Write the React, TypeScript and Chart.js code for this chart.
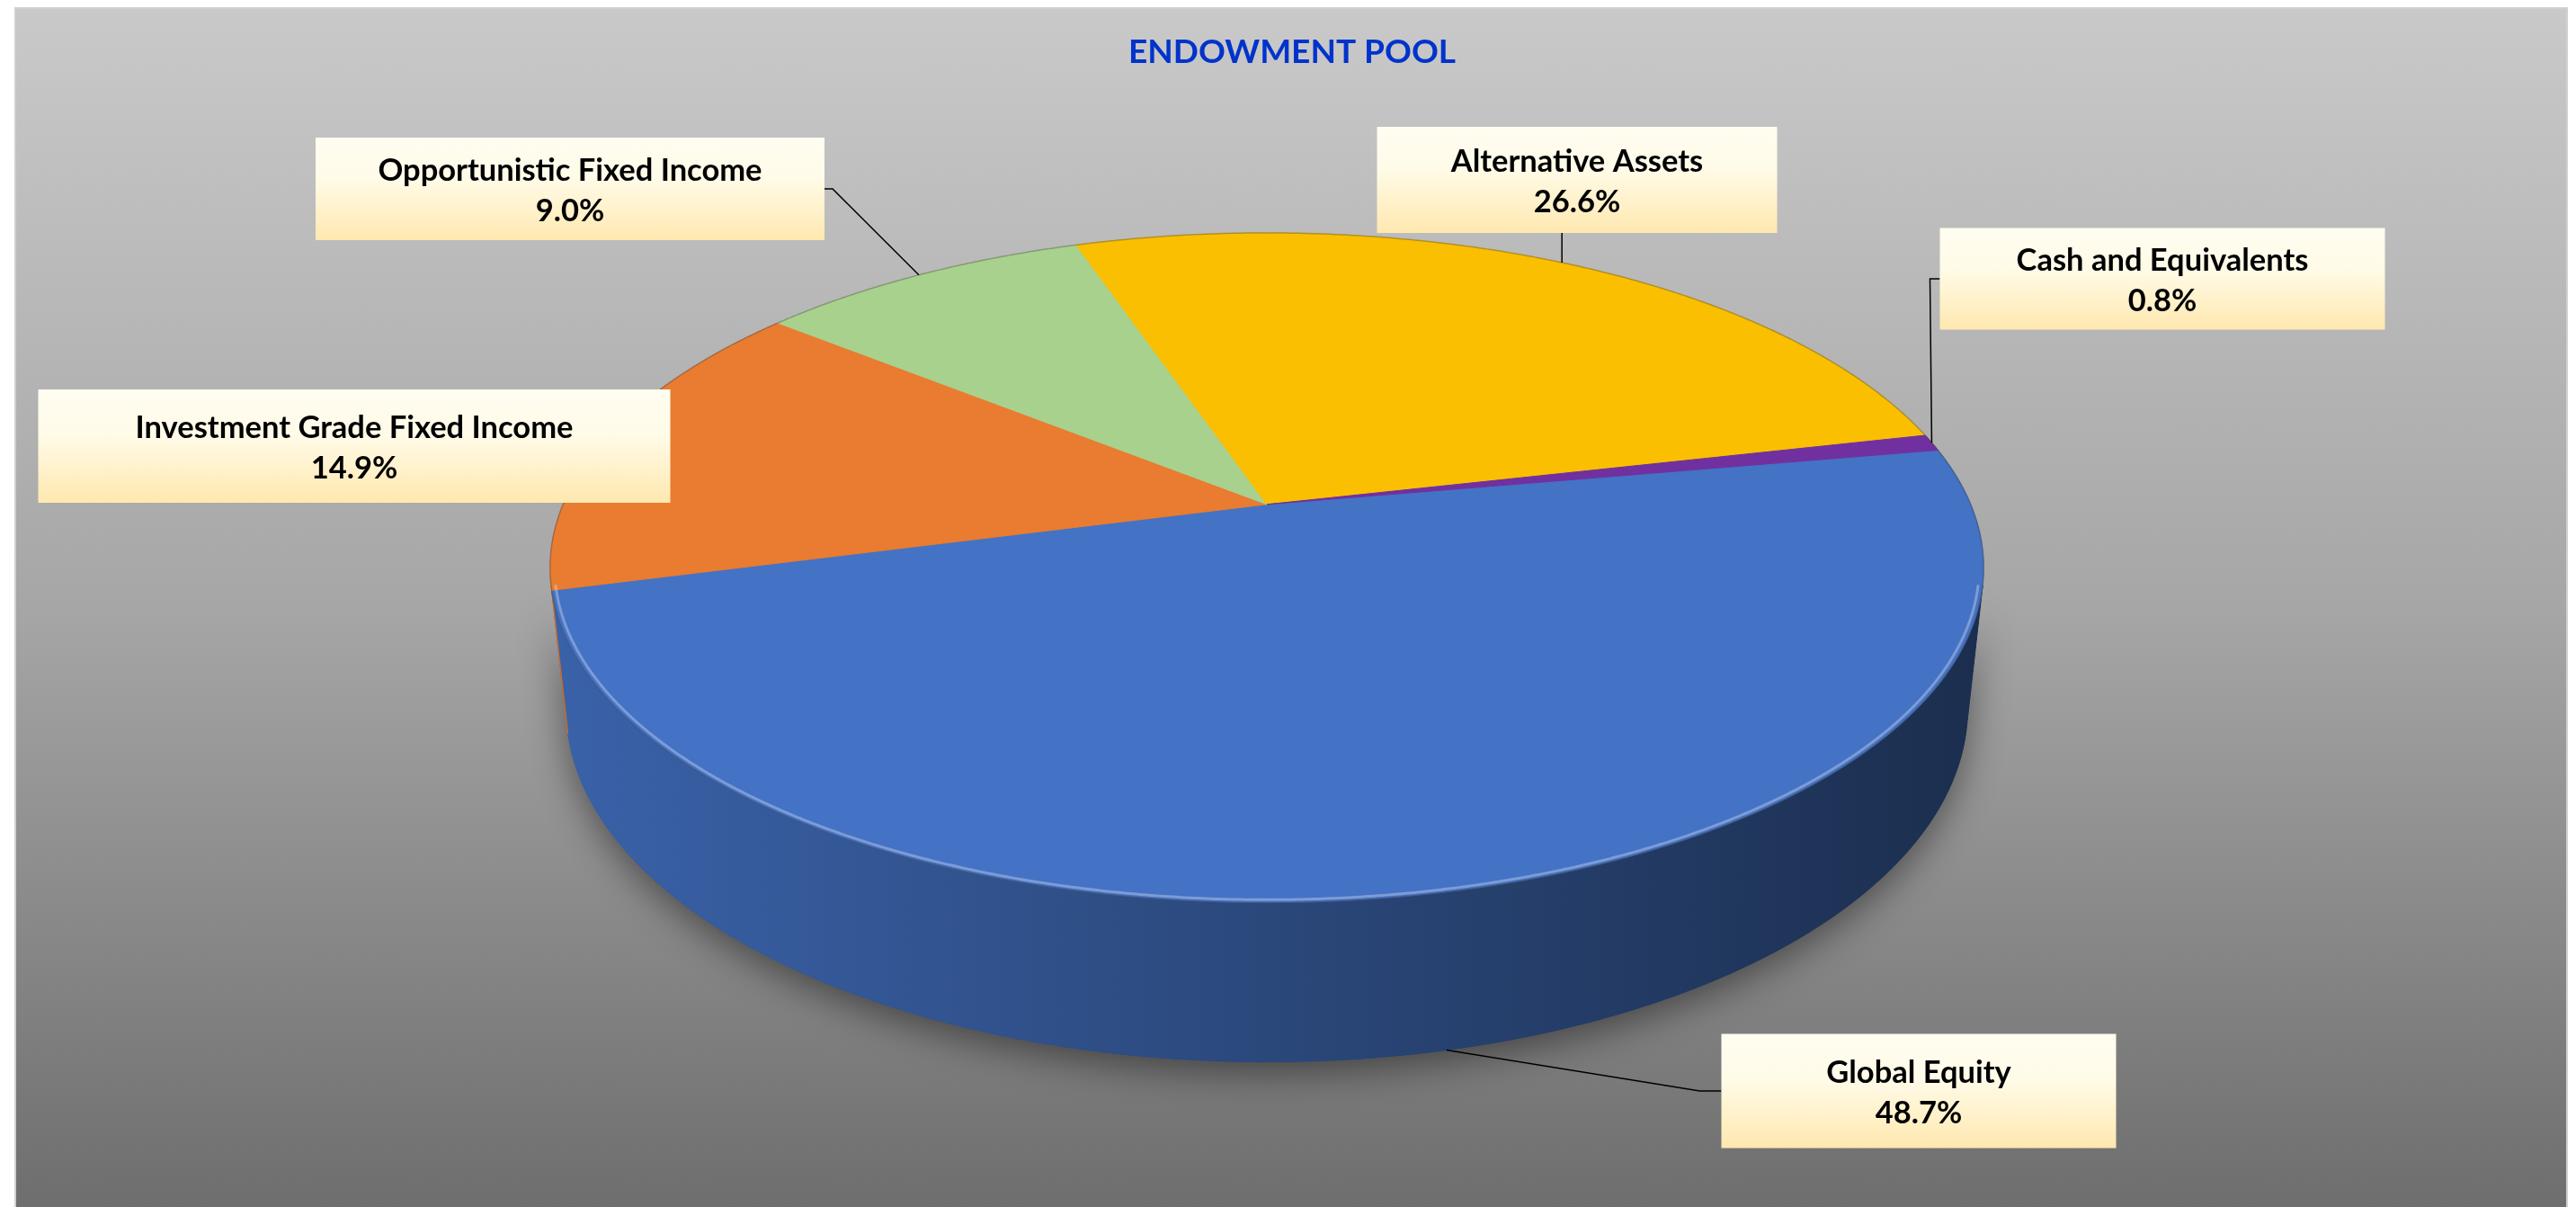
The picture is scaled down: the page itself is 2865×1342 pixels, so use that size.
import React, { useEffect, useRef } from 'react';
import { Chart, registerables } from 'chart.js';

Chart.register(...registerables);

// ---------- data ----------
const CATEGORIES = [
  'Global Equity',
  'Investment Grade Fixed Income',
  'Opportunistic Fixed Income',
  'Alternative Assets',
  'Cash and Equivalents',
];
const ALLOCATION_PCT = [48.7, 14.9, 9.0, 26.6, 0.8];
const SLICE_COLORS = ['#4472C4', '#E97C30', '#A9D18E', '#FABF00', '#7030A0'];
const CHART_TITLE = 'ENDOWMENT POOL';
const FIRST_SLICE_ANGLE = 80;

// ---------- layout / style ----------
const W = 2865;
const H = 1342;
const FONT = 'Lato, "Open Sans", sans-serif';

// callout boxes (center, size) and which side the leader line leaves from
const LABEL_LAYOUT = [
  { cx: 2134, cy: 1213, w: 439, h: 127, side: 'left', stub: 24 },
  { cx: 394, cy: 496, w: 703, h: 126, side: 'none', stub: 0 },
  { cx: 634, cy: 210, w: 566, h: 114, side: 'right', stub: 9 },
  { cx: 1754, cy: 200, w: 445, h: 118, side: 'bottom', stub: 0 },
  { cx: 2405, cy: 310, w: 495, h: 113, side: 'left', stub: 11 },
];

// perspective of the 3-D pie (in units of the library's outer radius)
const TILT = (27.3 * Math.PI) / 180;
const SIN_T = Math.sin(TILT);
const COS_T = Math.cos(TILT);
const VIEW_DIST = 5.283 * COS_T;
const FOCAL = 8.02;
const THICKNESS = 0.226;
const PHI_MIN = Math.asin(1 / (VIEW_DIST * COS_T));
const PHI_MAX = Math.PI - PHI_MIN;

function hexToRgb(hex: string) {
  const n = parseInt(hex.slice(1), 16);
  return [(n >> 16) & 255, (n >> 8) & 255, n & 255];
}
function shade(hex: string, f: number) {
  const [r, g, b] = hexToRgb(hex);
  return `rgb(${Math.round(r * f)},${Math.round(g * f)},${Math.round(b * f)})`;
}
function tint(hex: string, f: number) {
  const [r, g, b] = hexToRgb(hex);
  return `rgb(${Math.round(r + (255 - r) * f)},${Math.round(g + (255 - g) * f)},${Math.round(b + (255 - b) * f)})`;
}

function makeProjector(cx: number, cy: number, R: number) {
  return (phi: number, down: number, rad = 1): [number, number] => {
    const X = Math.cos(phi) * rad;
    const Z = Math.sin(phi) * rad;
    const yc = Z * SIN_T + down * COS_T;
    const zc = VIEW_DIST - Z * COS_T + down * SIN_T;
    return [cx + (FOCAL * R * X) / zc, cy + (FOCAL * R * yc) / zc];
  };
}

function rimPath(ctx: CanvasRenderingContext2D, proj: any, a: number, b: number, down: number, first: boolean, rad = 1) {
  const steps = Math.max(2, Math.ceil(Math.abs(b - a) / 0.005));
  for (let i = 0; i <= steps; i++) {
    const t = a + ((b - a) * i) / steps;
    const [x, y] = proj(t, down, rad);
    if (i === 0 && first) ctx.moveTo(x, y);
    else ctx.lineTo(x, y);
  }
}

function visibleWall(start: number, end: number): [number, number] | null {
  for (let k = -2; k <= 2; k++) {
    const s = Math.max(start, PHI_MIN + k * 2 * Math.PI);
    const e = Math.min(end, PHI_MAX + k * 2 * Math.PI);
    if (e > s) return [s, e];
  }
  return null;
}

const backgroundPlugin = {
  id: 'frameBackground',
  beforeDraw(chart: any) {
    const ctx = chart.ctx as CanvasRenderingContext2D;
    ctx.save();
    ctx.fillStyle = '#ffffff';
    ctx.fillRect(0, 0, W, H);
    const g = ctx.createLinearGradient(0, 9, 0, H);
    g.addColorStop(0, '#C9C9C9');
    g.addColorStop(0.5, '#A6A6A6');
    g.addColorStop(1, '#6E6E6E');
    ctx.fillStyle = g;
    ctx.fillRect(17, 9, 2838, H - 9);
    ctx.strokeStyle = '#D0D0D0';
    ctx.lineWidth = 2;
    ctx.strokeRect(17, 9, 2838, H + 10);
    // chart title
    ctx.fillStyle = '#0033CC';
    ctx.font = `bold 37px ${FONT}`;
    ctx.textAlign = 'center';
    ctx.textBaseline = 'alphabetic';
    ctx.fillText(CHART_TITLE, 1437, 70);
    ctx.restore();
  },
};

const pie3dPlugin = {
  id: 'pie3d',
  beforeDatasetsDraw(chart: any) {
    const ctx = chart.ctx as CanvasRenderingContext2D;
    const meta = chart.getDatasetMeta(0);
    const arcs = meta.data as any[];
    if (!arcs.length) return false;
    const { x: cx, y: cy, outerRadius: R } = arcs[0];
    const proj = makeProjector(cx, cy, R);
    const colors = chart.data.datasets[0].backgroundColor as string[];
    const halfW = (FOCAL * R) / Math.sqrt(VIEW_DIST * VIEW_DIST - COS_T * COS_T);

    ctx.save();
    // soft shadow under the solid
    ctx.beginPath();
    rimPath(ctx, proj, PHI_MIN, PHI_MAX, 0, true);
    rimPath(ctx, proj, PHI_MAX, PHI_MIN, THICKNESS, false);
    ctx.closePath();
    ctx.shadowColor = 'rgba(0,0,0,0.45)';
    ctx.shadowBlur = 40;
    ctx.shadowOffsetY = 12;
    ctx.fillStyle = '#1d2c52';
    ctx.fill();
    ctx.shadowColor = 'transparent';
    ctx.shadowBlur = 0;
    ctx.shadowOffsetY = 0;

    // side walls
    arcs.forEach((arc, i) => {
      const vis = visibleWall(arc.startAngle, arc.endAngle);
      if (!vis) return;
      const [a, b] = vis;
      const g = ctx.createLinearGradient(cx - halfW, 0, cx + halfW, 0);
      g.addColorStop(0, shade(colors[i], 0.86));
      g.addColorStop(0.5, shade(colors[i], 0.63));
      g.addColorStop(1, shade(colors[i], 0.4));
      ctx.beginPath();
      rimPath(ctx, proj, a, b, 0, true);
      rimPath(ctx, proj, b, a, THICKNESS, false);
      ctx.closePath();
      ctx.fillStyle = g;
      ctx.fill();
      ctx.strokeStyle = g;
      ctx.lineWidth = 1;
      ctx.stroke();
    });

    // top faces
    arcs.forEach((arc, i) => {
      ctx.beginPath();
      ctx.moveTo(cx, cy);
      rimPath(ctx, proj, arc.startAngle, arc.endAngle, 0, false);
      ctx.closePath();
      ctx.fillStyle = colors[i];
      ctx.fill();
      ctx.strokeStyle = colors[i];
      ctx.lineWidth = 1;
      ctx.stroke();
    });

    // outer rim edge
    ctx.beginPath();
    rimPath(ctx, proj, 0, Math.PI * 2, 0, true);
    ctx.strokeStyle = 'rgba(60,60,60,0.35)';
    ctx.lineWidth = 1.5;
    ctx.stroke();

    // bevel highlight along front rim
    arcs.forEach((arc, i) => {
      const vis = visibleWall(arc.startAngle, arc.endAngle);
      if (!vis) return;
      ctx.beginPath();
      rimPath(ctx, proj, vis[0], vis[1], 0, true, 0.994);
      ctx.strokeStyle = tint(colors[i], 0.3);
      ctx.lineWidth = 3;
      ctx.stroke();
    });
    ctx.restore();
    return false;
  },
};

const labelPlugin = {
  id: 'calloutLabels',
  afterDraw(chart: any) {
    const ctx = chart.ctx as CanvasRenderingContext2D;
    const meta = chart.getDatasetMeta(0);
    const arcs = meta.data as any[];
    if (!arcs.length) return;
    const { x: cx, y: cy, outerRadius: R } = arcs[0];
    const proj = makeProjector(cx, cy, R);
    const values = chart.data.datasets[0].data as number[];
    const labels = chart.data.labels as string[];
    ctx.save();
    arcs.forEach((arc, i) => {
      const L = LABEL_LAYOUT[i];
      const mid = (arc.startAngle + arc.endAngle) / 2;
      const front = Math.sin(mid) > Math.sin(PHI_MIN);
      const anchor = proj(mid, front ? THICKNESS : 0, 1);
      const left = L.cx - L.w / 2;
      const top = L.cy - L.h / 2;
      // leader
      if (L.side !== 'none') {
        ctx.beginPath();
        let sx = 0, sy = 0, ex = 0, ey = 0;
        if (L.side === 'left') { sx = left; sy = L.cy; ex = left - L.stub; ey = L.cy; }
        if (L.side === 'right') { sx = left + L.w; sy = L.cy; ex = sx + L.stub; ey = L.cy; }
        if (L.side === 'bottom') { sx = anchor[0]; sy = top + L.h; ex = sx; ey = sy; }
        ctx.moveTo(sx, sy);
        ctx.lineTo(ex, ey);
        ctx.lineTo(anchor[0], anchor[1]);
        ctx.strokeStyle = '#000000';
        ctx.lineWidth = 1.5;
        ctx.stroke();
      }
      // box
      const g = ctx.createLinearGradient(0, top, 0, top + L.h);
      g.addColorStop(0, '#FFFDF1');
      g.addColorStop(0.4, '#FFFBE8');
      g.addColorStop(1, '#FFE8AF');
      ctx.fillStyle = g;
      ctx.fillRect(left, top, L.w, L.h);
      // text
      ctx.fillStyle = '#000000';
      ctx.textAlign = 'center';
      ctx.textBaseline = 'alphabetic';
      ctx.font = `bold 34.5px ${FONT}`;
      ctx.fillText(labels[i], L.cx, L.cy - 9);
      ctx.fillText(`${values[i].toFixed(1)}%`, L.cx, L.cy + 36);
    });
    ctx.restore();
  },
};

export default function App() {
  const ref = useRef<HTMLCanvasElement>(null);
  useEffect(() => {
    document.body.style.margin = '0';
    document.body.style.overflow = 'hidden';
    const chart = new Chart(ref.current as HTMLCanvasElement, {
      type: 'pie',
      data: {
        labels: CATEGORIES,
        datasets: [
          {
            data: ALLOCATION_PCT,
            backgroundColor: SLICE_COLORS,
            borderWidth: 0,
          },
        ],
      },
      options: {
        responsive: false,
        animation: false,
        devicePixelRatio: 1,
        rotation: FIRST_SLICE_ANGLE,
        layout: { padding: { left: 0, right: 47, top: 102.6, bottom: 323 } },
        plugins: {
          legend: { display: false },
          tooltip: { enabled: false },
          title: { display: false },
        },
      } as any,
      plugins: [backgroundPlugin, pie3dPlugin, labelPlugin],
    });
    return () => chart.destroy();
  }, []);
  return (
    <div style={{ position: 'absolute', left: 0, top: 0, width: W, height: H, overflow: 'hidden' }}>
      <canvas ref={ref} width={W} height={H} style={{ display: 'block', width: W, height: H }} />
    </div>
  );
}
